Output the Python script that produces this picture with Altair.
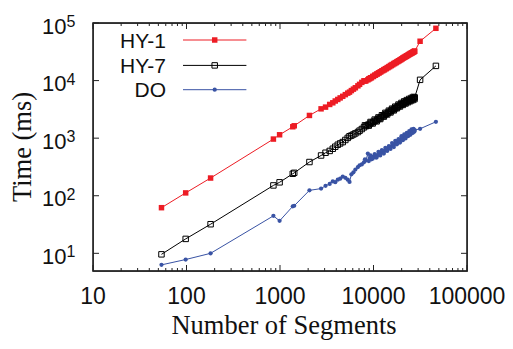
import altair as alt
import pandas as pd

# ---------------- data ----------------
series_names = ["HY-1", "HY-7", "DO"]

x_low = [54, 98, 181, 850, 990, 1370, 1420]
x_dense = [2065, 2750, 3070, 3400, 3670, 3900, 4150, 4400, 4690, 5000,
           5300, 5540, 5800, 6100, 6400, 6810, 7100, 7500, 7900, 8300,
           8700, 9100, 9500, 10000, 10500, 11000, 11500, 12000, 12600, 13100,
           13700, 14300, 14900, 15500, 16100, 16800, 17500, 18200, 18900, 19600,
           20300, 21000, 21700, 22400, 23100, 23800, 24500, 25200, 25900, 26500,
           27100, 27600]
x_extra = [8100, 8900, 9300, 9800, 10300, 10800, 11300, 11800, 12300, 12900,
           13400, 14000, 14600, 15200, 15800, 16500, 17100, 17800, 18500, 19200,
           19900, 20600, 21300, 22000, 22700, 23400, 24100, 24800, 25500, 26200,
           26800, 27400]
x_tail = [31500, 46500]

hy1_low = [62, 112, 203, 964, 1145, 1577, 1640]
hy1_dense = [2480, 3230, 3460, 3850, 4110, 4420, 4700, 5000, 5330, 5700,
             6050, 6300, 6700, 7100, 7500, 8100, 8600, 9300, 9900, 9900,
             10300, 10800, 11200, 11800, 12400, 13000, 13600, 14200, 14900, 15400,
             16100, 16800, 17500, 18200, 18900, 19700, 20500, 21400, 22200, 23000,
             23900, 24700, 25500, 26300, 27100, 27900, 28700, 29500, 30200, 30900,
             31600, 32300]
hy1_extra = [9800, 10700, 11200, 11800, 12400, 13000, 13600, 14200, 14800, 15500,
             16100, 16800, 17500, 18300, 19000, 19800, 20500, 21300, 22100, 22900,
             23800, 24700, 25500, 26300, 27100, 27900, 28800, 29600, 30400, 31100,
             31800, 32500]
hy1_tail = [48200, 80900]

hy7_low = [9.6, 17.8, 32, 151, 171, 241, 250]
hy7_dense = [385, 500, 558, 600, 655, 710, 769, 810, 855, 930,
             1010, 1080, 1110, 1160, 1210, 1276, 1350, 1440, 1540, 1620,
             1700, 1770, 1840, 1930, 2010, 2100, 2200, 2300, 2420, 2530,
             2650, 2770, 2890, 3010, 3130, 3260, 3400, 3550, 3690, 3810,
             3930, 4050, 4160, 4270, 4380, 4480, 4580, 4680, 4780, 4870,
             4960, 5100]
hy7_extra = [1670, 1650, 1910, 1800, 2100, 1960, 2290, 2150, 2500, 2370,
             2750, 2580, 3000, 2800, 3250, 3040, 3520, 3310, 3830, 3550,
             4090, 3780, 4350, 4000, 4580, 4210, 4800, 4400, 5000, 4580,
             5200, 4750]
hy7_tail = [10300, 18000]

do_low = [6.3, 7.8, 10, 44.7, 36.6, 65.6, 67]
do_dense = [124, 133, 149, 160, 178, 172, 190, 198, 215, 205,
            190, 174, 235, 255, 285, 315, 337, 350, 380, 410,
            540, 440, 430, 480, 465, 505, 520, 560, 585, 600,
            630, 660, 700, 720, 760, 790, 820, 870, 900, 950,
            990, 1040, 1010, 1120, 1090, 1200, 1160, 1290, 1250, 1340,
            1300, 1380]
do_extra = [430, 400, 500, 440, 530, 460, 580, 500, 620, 540,
            680, 600, 730, 650, 820, 700, 900, 780, 960, 840,
            1080, 920, 1160, 990, 1230, 1080, 1320, 1150, 1420, 1230,
            1450, 1300]
do_tail = [1455, 1924]

x_major = [10, 100, 1000, 10000, 100000]
x_labels = ["10", "100", "1000", "10000", "100000"]
x_minor = [m * d for d in (10, 100, 1000, 10000) for m in range(2, 10)]
y_major = [10, 100, 1000, 10000, 100000]
y_exp = ["1", "2", "3", "4", "5"]
x_title = "Number of Segments"
y_title = "Time (ms)"

# ---------------- styling ----------------
W, H = 374, 248
SANS = "Liberation Sans"
SERIF = "Liberation Serif"
TXT = "#111"
colors = {"HY-1": "#ED1C24", "HY-7": "#000000", "DO": "#3953A4"}

xs = alt.Scale(type="log", domain=[10, 100000], nice=False)
ys = alt.Scale(type="log", domain=[4.93, 100000], nice=False)

series_x = x_low + x_dense + x_extra + x_tail
series_vals = {
    "HY-1": hy1_low + hy1_dense + hy1_extra + hy1_tail,
    "HY-7": hy7_low + hy7_dense + hy7_extra + hy7_tail,
    "DO": do_low + do_dense + do_extra + do_tail,
}


def X(field):
    return alt.X(field, scale=xs, axis=None)


def Y(field):
    return alt.Y(field, scale=ys, axis=None)


layers = []

# frame
one = alt.Chart(pd.DataFrame({"k": [0]}))
layers.append(one.mark_rect(fill=None, fillOpacity=0, stroke="#222", strokeWidth=1.3).encode(
    x=alt.value(0), x2=alt.value(W), y=alt.value(0), y2=alt.value(H)))

markers = {
    "HY-1": dict(shape="square", filled=True, size=30),
    "HY-7": dict(shape="square", filled=False, size=30, strokeWidth=1),
    "DO": dict(shape="circle", filled=True, size=18),
}
for name in ["DO", "HY-7", "HY-1"]:
    df = pd.DataFrame({"x": series_x, "y": series_vals[name]})
    base = alt.Chart(df)
    layers.append(base.mark_line(color=colors[name], strokeWidth=1).encode(
        x=X("x:Q"), y=Y("y:Q")))
    layers.append(base.mark_point(color=colors[name], opacity=1, **markers[name]).encode(
        x=X("x:Q"), y=Y("y:Q")))

# ---------------- inward ticks ----------------
tick_col = "#222"
xmaj = alt.Chart(pd.DataFrame({"t": x_major}))
xmin = alt.Chart(pd.DataFrame({"t": x_minor}))
ymaj = alt.Chart(pd.DataFrame({"t": y_major, "e": y_exp}))
for ch, ln in ((xmaj, 6), (xmin, 3)):
    layers.append(ch.mark_rule(color=tick_col, strokeWidth=1).encode(
        x=X("t:Q"), y=alt.value(H), y2=alt.value(H - ln)))
    layers.append(ch.mark_rule(color=tick_col, strokeWidth=1).encode(
        x=X("t:Q"), y=alt.value(0), y2=alt.value(ln)))
layers.append(ymaj.mark_rule(color=tick_col, strokeWidth=1).encode(
    y=Y("t:Q"), x=alt.value(0), x2=alt.value(6)))
layers.append(ymaj.mark_rule(color=tick_col, strokeWidth=1).encode(
    y=Y("t:Q"), x=alt.value(W), x2=alt.value(W - 6)))

# ---------------- tick labels ----------------
# x labels: even-length labels are drawn as two halves meeting at the tick
# (digits share one width, so this looks identical to a centred label)
whole = [(t, s) for t, s in zip(x_major, x_labels) if len(s) % 2 == 1]
halves = [(t, s[: len(s) // 2], s[len(s) // 2:]) for t, s in zip(x_major, x_labels)
          if len(s) % 2 == 0]
df_whole = pd.DataFrame({"t": [w[0] for w in whole], "lab": ["'" + w[1] for w in whole]})
df_half = pd.DataFrame({"t": [h[0] for h in halves],
                        "left": ["'" + h[1] for h in halves],
                        "right": ["'" + h[2] for h in halves]})
lab_style = dict(baseline="alphabetic", font=SANS, fontSize=23, color=TXT)
layers.append(alt.Chart(df_whole).transform_calculate(
    txt="substring(datum.lab, 1)").mark_text(align="center", **lab_style).encode(
    x=X("t:Q"), y=alt.value(H + 33), text="txt:N"))
layers.append(alt.Chart(df_half).transform_calculate(
    txt="substring(datum.left, 1)").mark_text(align="right", **lab_style).encode(
    x=X("t:Q"), y=alt.value(H + 33), text="txt:N"))
layers.append(alt.Chart(df_half).transform_calculate(
    txt="substring(datum.right, 1)").mark_text(align="left", **lab_style).encode(
    x=X("t:Q"), y=alt.value(H + 33), text="txt:N"))

layers.append(ymaj.mark_text(align="right", baseline="alphabetic", font=SANS,
                             fontSize=22, color=TXT, dy=10.5).encode(
    y=Y("t:Q"), x=alt.value(-26.5), text=alt.value("10")))
layers.append(ymaj.mark_text(align="left", baseline="alphabetic", font=SANS,
                             fontSize=16, color=TXT, dy=4).encode(
    y=Y("t:Q"), x=alt.value(-26.5), text="e:N"))

# ---------------- axis titles ----------------
layers.append(one.mark_text(align="center", baseline="alphabetic", font=SERIF,
                            fontSize=26.5, color=TXT).encode(
    x=alt.value(191), y=alt.value(H + 63), text=alt.value(x_title)))
layers.append(one.mark_text(align="center", baseline="alphabetic", font=SERIF,
                            fontSize=26.5, color=TXT, angle=270).encode(
    x=alt.value(-62), y=alt.value(H / 2), text=alt.value(y_title)))

# ---------------- legend (inside plot, top-left) ----------------
leg_rows = {"HY-1": 17, "HY-7": 42.4, "DO": 66.7}
for name in series_names:
    yy = leg_rows[name]
    layers.append(one.mark_text(align="right", baseline="alphabetic", font=SANS,
                                fontSize=21, color=TXT).encode(
        x=alt.value(73), y=alt.value(yy + 7.7), text=alt.value(name)))
    layers.append(one.mark_rule(color=colors[name], strokeWidth=1).encode(
        x=alt.value(90), x2=alt.value(153.4), y=alt.value(yy)))
    layers.append(one.mark_point(color=colors[name], opacity=1, **markers[name]).encode(
        x=alt.value(121.7), y=alt.value(yy)))

chart = alt.layer(*layers).properties(
    width=W, height=H,
    autosize=alt.AutoSizeParams(type="none"),
    padding={"left": 85, "top": 15, "right": 38, "bottom": 70},
    background="white",
).configure_view(stroke="#222", strokeWidth=1.3)

chart.save("out.html", embed_options={"renderer": "svg", "actions": False})
